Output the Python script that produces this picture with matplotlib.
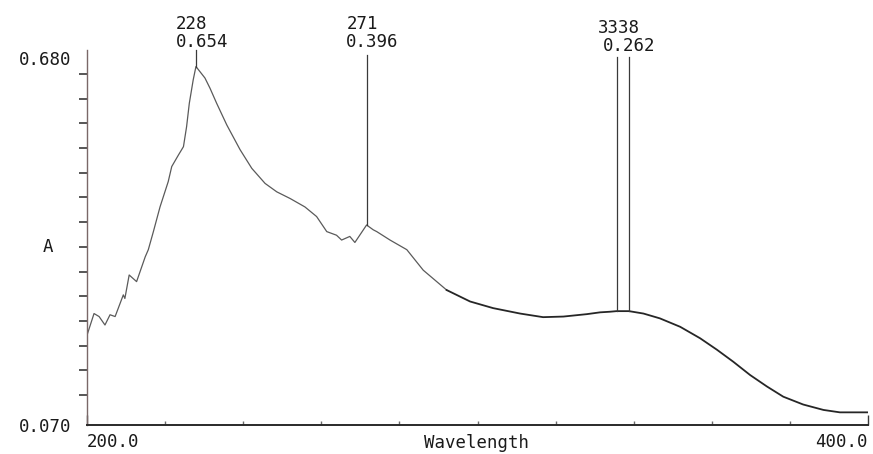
#!/usr/bin/env python3
"""UV-Vis absorbance scan, redrawn in the style of the instrument printout."""

import numpy as np
import matplotlib
matplotlib.use('Agg')
import matplotlib.pyplot as plt
import matplotlib.transforms as mtransforms

# Absorbance trace (wavelength in nm, absorbance A)
wavelength = [200.0, 201.8, 203.1, 204.6, 205.9, 207.2, 209.3, 209.7, 210.8, 212.7,
              214.9, 215.7, 217.0, 218.7, 220.8, 221.7, 223.4, 224.7, 225.5, 226.2,
              227.2, 227.9, 230.2, 231.5, 233.2, 235.8, 239.2, 242.2, 245.6, 248.6,
              252.0, 255.8, 258.8, 261.4, 263.9, 265.2, 267.3, 268.6, 271.6, 273.3,
              274.2, 277.6, 281.9, 286.1, 292.1, 298.1, 304.0, 310.9, 316.8, 322.0,
              328.0, 331.4, 333.9, 335.6, 337.4, 338.8, 342.5, 346.7, 351.9, 357.0,
              361.3, 365.5, 369.8, 374.1, 378.3, 383.4, 388.6, 392.8, 400.0]
absorbance = [0.219, 0.255, 0.250, 0.236, 0.253, 0.250, 0.286, 0.280, 0.319, 0.308,
              0.349, 0.361, 0.391, 0.432, 0.474, 0.499, 0.518, 0.532, 0.565, 0.604,
              0.643, 0.665, 0.646, 0.629, 0.604, 0.568, 0.527, 0.496, 0.471, 0.457,
              0.446, 0.432, 0.416, 0.391, 0.385, 0.377, 0.383, 0.373, 0.402, 0.394,
              0.391, 0.377, 0.361, 0.327, 0.294, 0.275, 0.264, 0.255, 0.249, 0.250,
              0.254, 0.257, 0.258, 0.259, 0.259, 0.259, 0.255, 0.247, 0.233, 0.214,
              0.195, 0.175, 0.153, 0.134, 0.117, 0.104, 0.095, 0.091, 0.091]

# Peak picks: marker position, top of the marker line, printed labels
peak_wl = [227.9, 271.6, 335.6, 338.8]
peak_abs = [0.665, 0.402, 0.259, 0.259]
peak_line_top = [0.6925, 0.684, 0.681, 0.681]
label_wl = [227.9, 271.6, 337.2]
label_nm = ['228', '271', '3338']
label_a = ['0.654', '0.396', '0.262']

y_min, y_max = 0.070, 0.680
x_min, x_max = 200.0, 400.0

W, H = 873, 454
fig = plt.figure(figsize=(W / 100, H / 100), dpi=100)
ax = fig.add_axes([87 / W, 1 - 425 / H, (868 - 87) / W, (425 - 50) / H])

mono = 'DejaVu Sans Mono'
fs = 12.5
nm_per_px = (x_max - x_min) / 781

# Trace: faint pen on the left, heavier on the right
wl = np.array(wavelength)
ab = np.array(absorbance)
split = np.searchsorted(wl, 290.0)
ax.plot(wl[:split + 1], ab[:split + 1], color='#5a5a5a', linewidth=0.9)
ax.plot(wl[split:], ab[split:], color='#262626', linewidth=1.3)

# Peak marker lines
for x, y0, y1 in zip(peak_wl, peak_abs, peak_line_top):
    ax.plot([x, x], [y0, y1], color='#3a3a3a', linewidth=0.9, clip_on=False)

# Peak labels (two rows above the plot)
trans = mtransforms.blended_transform_factory(ax.transData, fig.transFigure)
for x, nm, a, dy in zip(label_wl, label_nm, label_a, [0, 0, 4]):
    ax.text(x - 4 * nm_per_px, 1 - (24 + dy) / H, nm, transform=trans,
            ha='center', va='center', family=mono, fontsize=fs, color='#1a1a1a')
    ax.text(x + 6 * nm_per_px, 1 - (42 + dy) / H, a, transform=trans,
            ha='center', va='center', family=mono, fontsize=fs, color='#1a1a1a')

ax.set_xlim(x_min, x_max)
ax.set_ylim(y_min, y_max + 7.5 * (y_max - y_min) / 367.5)

# Spines
for side in ('top', 'right'):
    ax.spines[side].set_visible(False)
ax.spines['left'].set_color('#7a6868')
ax.spines['left'].set_linewidth(1.0)
ax.spines['bottom'].set_color('#2a2a2a')
ax.spines['bottom'].set_linewidth(1.4)

# Y axis: end labels only, small marks outside
ax.set_yticks([y_min, y_max])
ax.set_yticklabels(['0.070', '0.680'], family=mono, fontsize=fs, color='#1a1a1a')
ax.set_yticks(list(np.linspace(0.6526, 0.1198, 14)) + [y_min], minor=True)
ax.tick_params(axis='y', which='major', length=0, pad=11)
ax.tick_params(axis='y', which='minor', length=6, width=1.2, color='#3a3a3a',
               direction='out')

# X axis: end labels, small marks inside
ax.set_xticks([x_min, x_max])
ax.set_xticklabels(['200.0', '400.0'], family=mono, fontsize=fs, color='#1a1a1a')
xl = ax.get_xticklabels()
xl[0].set_ha('left')
xl[1].set_ha('right')
ax.set_xticks(np.arange(220, 381, 20), minor=True)
ax.tick_params(axis='x', which='major', length=7, width=1.0, color='#3a3a3a',
               direction='in', pad=6)
ax.tick_params(axis='x', which='minor', length=3, width=1.0, color='#6a6a6a',
               direction='in')

fig.text(48 / W, 1 - 247 / H, 'A', family=mono, fontsize=fs, ha='center',
         va='center', color='#1a1a1a')
fig.text(477 / W, 1 - 443 / H, 'Wavelength', family=mono, fontsize=fs,
         ha='center', va='center', color='#1a1a1a')

fig.savefig('out.png', dpi=100)
